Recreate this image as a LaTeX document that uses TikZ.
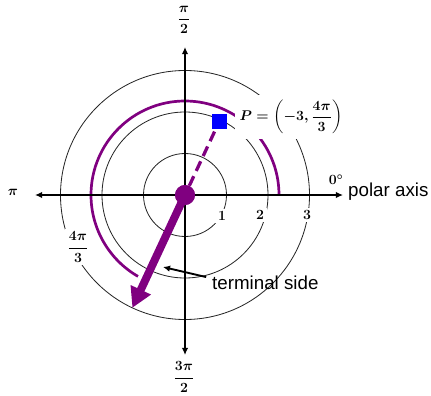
\documentclass[tikz,border=0pt]{standalone}
\usepackage{amsmath}
\usepackage{fontspec}
\setsansfont{Liberation Sans}
\usepackage{xcolor}
\usetikzlibrary{
    positioning, % posicionamento relativo
    arrows.meta, % pontas de seta
    calc
}
\tikzset{>=latex}
\definecolor{anglepurple}{RGB}{128,0,128}
\definecolor{pointblue}{RGB}{0,0,255}

\begin{document}
\begin{tikzpicture}[x=0.03cm, y=0.03cm,
    ring/.style={line width=0.7pt, black!85},
    axisline/.style={line width=1.7pt, {Latex[length=6pt, width=5.5pt]}-{Latex[length=6pt, width=5.5pt]}},
    mathlbl/.style={font=\fontsize{12}{14}\selectfont\boldmath, fill=white, inner sep=2.5pt},
    words/.style={font=\fontsize{16}{19}\selectfont\sffamily, inner sep=0pt}]

  % simple knobs (units of the picture, pole at the origin)
  \def\Rone{41.5}   % circle r = 1
  \def\Rtwo{83}     % circle r = 2
  \def\Rthr{124.5}  % circle r = 3
  \def\Rarc{94}     % radius of the angle arc
  \def\Th{65}       % direction of the dashed ray

  \useasboundingbox (-185,-200) rectangle (246,195);

  % ===================== GRID =====================
  \foreach \r in {\Rone,\Rtwo,\Rthr}
    \draw[ring] (0,0) circle[radius=\r];

  % angle arc (0 -> 4pi/3)
  \draw[anglepurple, line width=2.3pt] (\Rarc,0) arc[start angle=0, end angle=240, radius=\Rarc];

  % axis ends
  \coordinate (xmin) at (-150,0);
  \coordinate (xmax) at (158,0);
  \coordinate (ymin) at (0,-160);
  \coordinate (ymax) at (0,148);
  \draw[axisline] (xmin) -- (xmax);
  \draw[axisline] (ymin) -- (ymax);

  % ===================== LABELS =====================
  \node[mathlbl] (half)   at (-1,175)   {$\dfrac{\pi}{2}$};
  \node[mathlbl] (three)  at (-1,-182)  {$\dfrac{3\pi}{2}$};
  \node[mathlbl] (pi)     at (-172,3)   {$\pi$};
  \node[mathlbl] (zero)   at (151,15)   {$0^{\circ}$};
  \node[words, anchor=west] (polar) at (163,3) {polar axis};
  \node[mathlbl] (one)    at (37,-21)   {$1$};
  \node[mathlbl] (two)    at (75,-20)   {$2$};
  \node[mathlbl] (thr)    at (122,-20)  {$3$};
  \node[mathlbl] (fourpi) at (-107,-52) {$\dfrac{4\pi}{3}$};
  \node[mathlbl, inner sep=4pt] (Plbl) at (106,78)
    {$P=\left(-3,\dfrac{4\pi}{3}\right)$};

  % ===================== RAY =====================
  \node[circle, fill=anglepurple, minimum size=17pt, inner sep=0pt] (O) at (0,0) {};
  \node[fill=pointblue, minimum size=12.5pt, inner sep=0pt] (P) at (\Th:81) {};
  \coordinate (T) at (180+\Th:\Rthr);

  % dashed part towards P
  \draw[anglepurple, line width=2.8pt, dash pattern=on 9pt off 5pt] (O) -- (P);
  % terminal side
  \draw[anglepurple, line width=6.8pt, -{Triangle[length=17pt, width=18pt]}] (O.center) -- (T);
  \node[circle, fill=anglepurple, minimum size=17pt, inner sep=0pt] at (O) {};

  % pointer to the terminal side
  \node[words, anchor=west] (term) at (27,-88) {terminal side};
  \coordinate (hit) at (-22,-72);
  \draw[line width=1.6pt, -{Latex[length=6pt, width=5.5pt]}] ([xshift=-5pt, yshift=-1pt]term.north west) -- (hit);
\end{tikzpicture}
\end{document}
